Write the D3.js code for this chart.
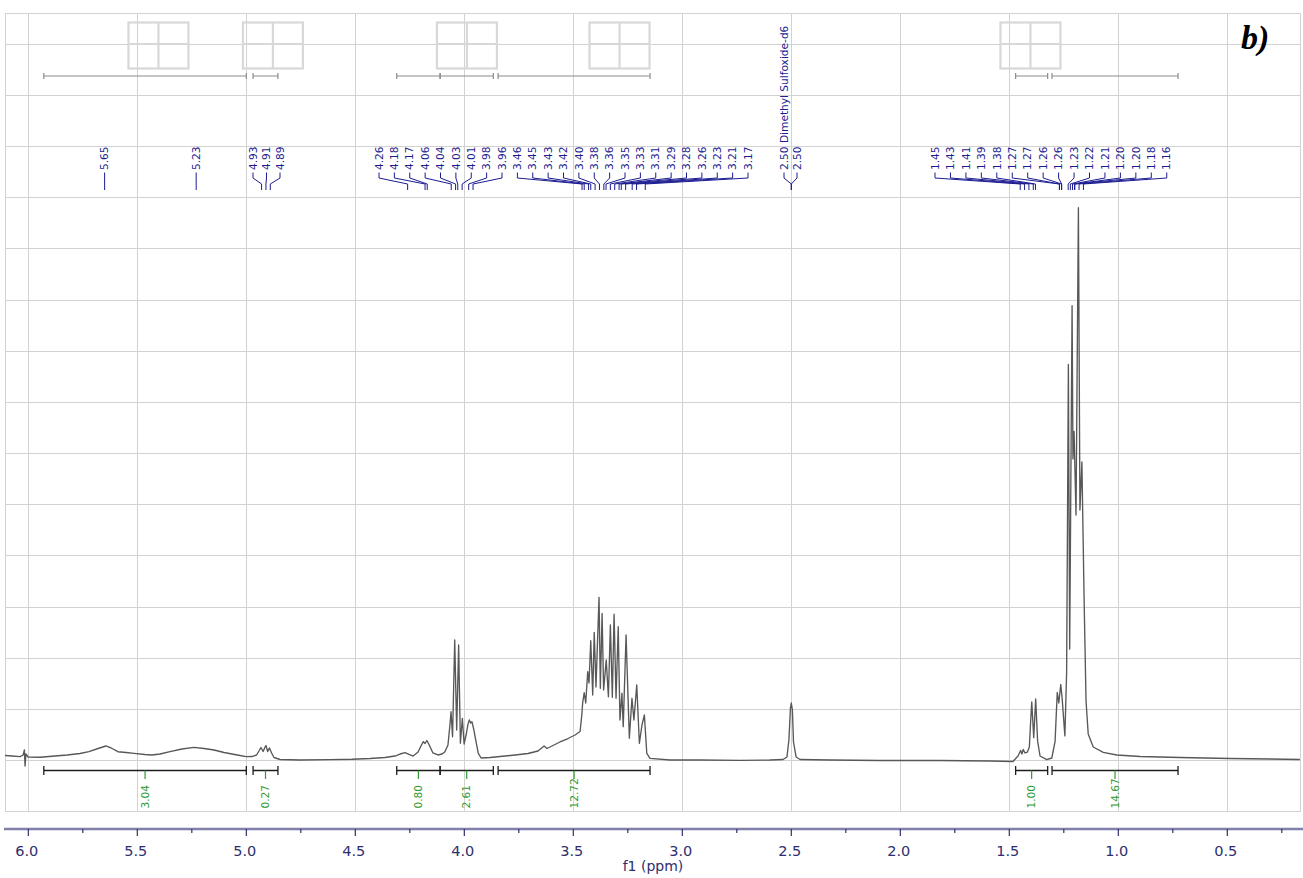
<!DOCTYPE html>
<html>
<head>
<meta charset="utf-8">
<script src="https://cdn.jsdelivr.net/npm/d3@7"></script>
<style>
  html, body { margin: 0; padding: 0; background: #ffffff; }
  svg { display: block; font-family: "DejaVu Sans", Verdana, sans-serif; }
</style>
</head>
<body>
<svg id="chart" width="1303" height="878"></svg>
<script>
// ---------- 1H NMR trace (chemical shift in ppm, intensity in grid units) ----------
const tracePpm = [
  6.107, 6.075, 6.038, 6.024, 6.018, 6.015, 6.011, 6.001, 5.946, 5.878,
  5.822, 5.763, 5.722, 5.680, 5.644, 5.616, 5.589, 5.552, 5.515, 5.465,
  5.433, 5.396, 5.350, 5.295, 5.240, 5.194, 5.148, 5.102, 5.066, 5.029,
  5.001, 4.974, 4.953, 4.942, 4.933, 4.923, 4.914, 4.910, 4.902, 4.894,
  4.884, 4.873, 4.845, 4.754, 4.616, 4.515, 4.433, 4.364, 4.318, 4.295,
  4.272, 4.254, 4.235, 4.212, 4.199, 4.188, 4.180, 4.172, 4.162, 4.144,
  4.121, 4.102, 4.089, 4.075, 4.066, 4.061, 4.054, 4.044, 4.035, 4.026,
  4.018, 4.009, 4.001, 3.990, 3.983, 3.977, 3.971, 3.965, 3.956, 3.946,
  3.936, 3.923, 3.882, 3.836, 3.767, 3.708, 3.662, 3.648, 3.634, 3.621,
  3.598, 3.561, 3.524, 3.492, 3.469, 3.461, 3.457, 3.450, 3.443, 3.434,
  3.428, 3.420, 3.411, 3.404, 3.396, 3.382, 3.376, 3.368, 3.361, 3.349,
  3.339, 3.330, 3.321, 3.313, 3.304, 3.294, 3.286, 3.277, 3.271, 3.258,
  3.243, 3.231, 3.222, 3.209, 3.197, 3.185, 3.174, 3.163, 3.148, 3.056,
  2.919, 2.735, 2.598, 2.538, 2.520, 2.511, 2.504, 2.500, 2.495, 2.490,
  2.478, 2.460, 2.322, 2.093, 1.818, 1.589, 1.483, 1.460, 1.448, 1.442,
  1.436, 1.428, 1.417, 1.408, 1.403, 1.397, 1.388, 1.379, 1.370, 1.359,
  1.328, 1.305, 1.290, 1.280, 1.273, 1.264, 1.258, 1.245, 1.237, 1.229,
  1.223, 1.212, 1.208, 1.203, 1.194, 1.183, 1.176, 1.167, 1.157, 1.148,
  1.138, 1.115, 1.069, 1.007, 0.900, 0.717, 0.488, 0.304, 0.167
];
const traceInt = [
  0.088, 0.078, 0.065, 0.098, 0.195, -0.117, 0.117, 0.059, 0.053, 0.078,
  0.098, 0.127, 0.162, 0.225, 0.274, 0.225, 0.162, 0.147, 0.131, 0.108,
  0.098, 0.117, 0.162, 0.215, 0.248, 0.225, 0.195, 0.147, 0.117, 0.088,
  0.065, 0.068, 0.098, 0.176, 0.244, 0.166, 0.254, 0.283, 0.166, 0.235,
  0.137, 0.049, 0.010, 0.000, 0.006, 0.014, 0.029, 0.049, 0.078, 0.117,
  0.143, 0.108, 0.078, 0.156, 0.274, 0.358, 0.323, 0.381, 0.303, 0.137,
  0.098, 0.117, 0.162, 0.293, 0.684, 0.944, 0.455, 2.346, 0.586, 2.248,
  0.326, 0.815, 0.313, 0.528, 0.704, 0.782, 0.723, 0.749, 0.586, 0.352,
  0.131, 0.039, 0.049, 0.068, 0.098, 0.127, 0.176, 0.225, 0.274, 0.225,
  0.274, 0.352, 0.420, 0.489, 0.557, 0.880, 1.120, 1.315, 1.114, 1.726,
  1.505, 2.332, 1.271, 2.496, 1.427, 3.180, 1.401, 2.867, 1.368, 1.955,
  1.237, 2.639, 1.226, 2.848, 1.206, 2.606, 0.782, 1.304, 0.651, 2.443,
  0.424, 1.206, 0.782, 1.466, 0.326, 0.684, 0.880, 0.131, 0.033, 0.000,
  0.000, -0.006, 0.000, 0.010, 0.059, 0.391, 1.016, 1.114, 0.977, 0.352,
  0.059, 0.010, 0.000, -0.010, -0.010, -0.020, -0.029, 0.078, 0.186, 0.117,
  0.205, 0.137, 0.156, 0.254, 0.684, 1.134, 0.436, 1.192, 0.364, 0.078,
  0.006, 0.039, 0.364, 1.323, 1.114, 1.476, 1.224, 0.471, 1.726, 7.733,
  2.170, 8.880, 5.884, 6.421, 4.789, 10.794, 4.887, 5.825, 3.167, 1.153,
  0.508, 0.254, 0.149, 0.098, 0.068, 0.049, 0.029, 0.020, 0.010
];

// ---------- peak picking ----------
const peaksSingleA = [5.65];
const peaksSingleB = [5.23];
const peaksTriplet = [4.93, 4.91, 4.89];
const peaksMid = [4.26, 4.18, 4.17, 4.06, 4.04, 4.03, 4.01, 3.98, 3.96,
                  3.46, 3.45, 3.43, 3.42, 3.40, 3.38, 3.36, 3.35, 3.33,
                  3.31, 3.29, 3.28, 3.26, 3.23, 3.21, 3.17];
const peaksSolvent = [2.50, 2.50];
const solventLabels = ["2.50 Dimethyl Sulfoxide-d6", "2.50"];
const peaksHigh = [1.45, 1.43, 1.41, 1.39, 1.38, 1.27, 1.27, 1.26, 1.26,
                   1.23, 1.22, 1.21, 1.20, 1.20, 1.18, 1.16];

// ---------- integration regions ----------
const integralFrom  = [5.929, 4.969, 4.310, 4.111, 3.845, 1.471, 1.304];
const integralTo    = [5.000, 4.855, 4.111, 3.867, 3.148, 1.324, 0.726];
const integralValue = ["3.04", "0.27", "0.80", "2.61", "12.72", "1.00", "14.67"];

// ---------- multiplet report frames (centre in ppm) ----------
const multipletCentres = [5.403, 4.878, 3.988, 3.288, 1.403];

// ---------- axis ----------
const majorTicks = [6.0, 5.5, 5.0, 4.5, 4.0, 3.5, 3.0, 2.5, 2.0, 1.5, 1.0, 0.5];
const minorTicks = [5.75, 5.25, 4.75, 4.25, 3.75, 3.25, 2.75, 2.25, 1.75, 1.25, 0.75, 0.25];
const gridLevels = d3.range(-1, 15);

// ================= drawing =================
const svg = d3.select("#chart");
const plotL = 5, plotR = 1300;

const x = d3.scaleLinear().domain([6.107, 0.1665]).range([plotL, plotR]);
const y = d3.scaleLinear().domain([0, 14]).range([760, 43.76]);
const plotTop = y(14.6), plotBottom = y(-1);

const NAVY = "#1c1c90";
const GREEN = "#2f9a2f";
const GRID = "#d2d2d2";
const LABEL_SIZE = 10.6;

// grid
const grid = svg.append("g").attr("shape-rendering", "crispEdges");
grid.selectAll("line.h").data(gridLevels).join("line")
  .attr("x1", plotL).attr("x2", plotR)
  .attr("y1", d => Math.round(y(d)) + 0.5).attr("y2", d => Math.round(y(d)) + 0.5)
  .attr("stroke", GRID).attr("stroke-width", 1);
grid.selectAll("line.v").data(majorTicks).join("line")
  .attr("x1", d => Math.round(x(d)) + 0.5).attr("x2", d => Math.round(x(d)) + 0.5)
  .attr("y1", plotTop).attr("y2", plotBottom)
  .attr("stroke", GRID).attr("stroke-width", 1);
grid.append("rect")
  .attr("x", plotL + 0.5).attr("y", Math.round(plotTop) + 0.5)
  .attr("width", plotR - plotL).attr("height", Math.round(plotBottom) - Math.round(plotTop))
  .attr("fill", "none").attr("stroke", GRID).attr("stroke-width", 1);

// multiplet frames
const frames = svg.append("g");
multipletCentres.forEach(c => {
  const cx = x(c), w = 60, top = 22.5, h = 46;
  const fg = frames.append("g").attr("fill", "none").attr("stroke", "#d8d8d8").attr("stroke-width", 2.2);
  fg.append("rect").attr("x", cx - w / 2).attr("y", top).attr("width", w).attr("height", h);
  fg.append("line").attr("x1", cx).attr("x2", cx).attr("y1", top).attr("y2", top + h);
  fg.append("line").attr("x1", cx - w / 2).attr("x2", cx + w / 2).attr("y1", top + h / 2 - 1.5).attr("y2", top + h / 2 - 1.5);
});

// spectrum
const pts = tracePpm.map((p, i) => [p, traceInt[i]]);
svg.append("path")
  .datum(pts)
  .attr("fill", "none")
  .attr("stroke", "#585858")
  .attr("stroke-width", 1.35)
  .attr("stroke-linejoin", "round")
  .attr("d", d3.line().x(d => x(d[0])).y(d => y(d[1])));

// integrals: bracket near the top and bracket + value near the baseline
const integ = svg.append("g");
integralFrom.forEach((f, i) => {
  const x1 = x(f), x2 = x(integralTo[i]), xm = (x1 + x2) / 2;
  integ.append("path")
    .attr("d", `M${x1},73V79M${x1},76H${x2}M${x2},73V79`)
    .attr("fill", "none").attr("stroke", "#8c8c8c").attr("stroke-width", 1.2);
  integ.append("path")
    .attr("d", `M${x1},766V775M${x1},770.5H${x2}M${x2},766V775`)
    .attr("fill", "none").attr("stroke", "#1e1e1e").attr("stroke-width", 1.3);
  integ.append("line")
    .attr("x1", xm).attr("x2", xm).attr("y1", 770.5).attr("y2", 779)
    .attr("stroke", GREEN).attr("stroke-width", 1.2);
  integ.append("text")
    .attr("transform", `translate(${xm},808.5) rotate(-90)`)
    .attr("dy", "0.35em")
    .attr("fill", GREEN).attr("font-size", LABEL_SIZE)
    .text(integralValue[i]);
});

// peak labels with leader lines
const peaks = svg.append("g");
function peakGroup(values, labels, x0, step) {
  values.forEach((v, i) => {
    const lx = x0 == null ? x(v) : x0 + i * step;
    const px = x(v);
    peaks.append("path")
      .attr("d", `M${lx},172.5V178L${px},184V190`)
      .attr("fill", "none").attr("stroke", NAVY).attr("stroke-width", 1);
    peaks.append("text")
      .attr("transform", `translate(${lx},170) rotate(-90)`)
      .attr("dy", "0.35em")
      .attr("fill", NAVY).attr("font-size", LABEL_SIZE)
      .text(labels[i]);
  });
}
const fmt = d3.format(".2f");
peakGroup(peaksSingleA, peaksSingleA.map(fmt), null, 0);
peakGroup(peaksSingleB, peaksSingleB.map(fmt), null, 0);
peakGroup(peaksTriplet, peaksTriplet.map(fmt), 253, 13.5);
peakGroup(peaksMid, peaksMid.map(fmt), 379, 15.375);
peakGroup(peaksSolvent, solventLabels, 784, 13);
peakGroup(peaksHigh, peaksHigh.map(fmt), 935, 15.45);

// panel tag
svg.append("text")
  .attr("x", 1241).attr("y", 49)
  .style("font-family", "'Liberation Serif', 'Times New Roman', serif")
  .style("font-style", "italic").style("font-weight", "bold")
  .style("font-size", "34px").attr("fill", "#000")
  .text("b)");

// chemical shift axis
const axisY = 829;
const ax = svg.append("g");
ax.append("line").attr("x1", 4).attr("x2", 1303).attr("y1", axisY).attr("y2", axisY)
  .attr("stroke", "#8080aa").attr("stroke-width", 2.5);
ax.selectAll("line.maj").data(majorTicks).join("line")
  .attr("x1", d => x(d)).attr("x2", d => x(d)).attr("y1", axisY).attr("y2", axisY + 7)
  .attr("stroke", "#30306e").attr("stroke-width", 1.2);
ax.selectAll("line.min").data(minorTicks).join("line")
  .attr("x1", d => x(d)).attr("x2", d => x(d)).attr("y1", axisY).attr("y2", axisY + 4)
  .attr("stroke", "#30306e").attr("stroke-width", 1.2);
ax.selectAll("text.tl").data(majorTicks).join("text")
  .attr("x", d => x(d) - 1.5).attr("y", 856)
  .attr("text-anchor", "middle").attr("font-size", 14.5).attr("fill", "#2e2e6e")
  .text(d => d3.format(".1f")(d));
ax.append("text")
  .attr("x", 653).attr("y", 871).attr("text-anchor", "middle")
  .attr("font-size", 14).attr("fill", "#2e2e6e")
  .text("f1 (ppm)");
</script>
</body>
</html>
